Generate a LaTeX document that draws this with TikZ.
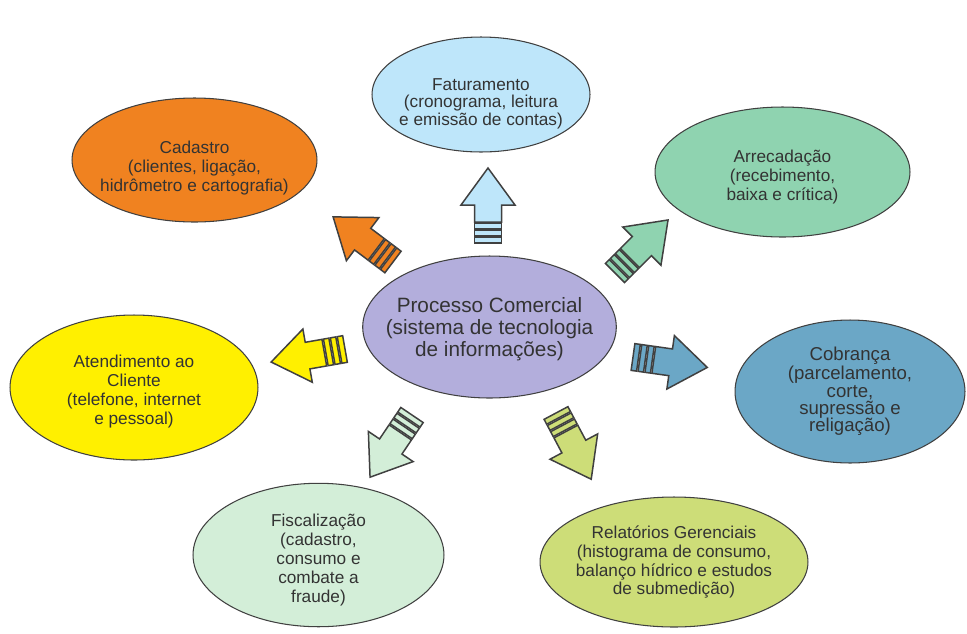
\documentclass[tikz,border=0pt]{standalone}
\usepackage{fontspec}
\setmainfont{Liberation Sans}
\usetikzlibrary{shapes.geometric}

\definecolor{fatblue}{RGB}{190,230,250}
\definecolor{cadorange}{RGB}{240,130,32}
\definecolor{arrgreen}{RGB}{143,211,176}
\definecolor{proclilac}{RGB}{179,174,220}
\definecolor{atendyellow}{RGB}{255,240,0}
\definecolor{cobblue}{RGB}{107,167,198}
\definecolor{fiscgreen}{RGB}{211,238,216}
\definecolor{relolive}{RGB}{205,221,120}

\tikzset{
  bubble/.style={ellipse, draw=black!75, line width=0.6pt, inner ysep=0pt, inner xsep=-8pt,
    align=center, text=black!80, font=\fontsize{9.8}{10.8}\selectfont},
  blockarrow/.style={draw=black!75, line width=0.85pt, line join=miter},
  pics/stripearrow/.style={code={
    \path[pic actions] (0,-13.5) rectangle (5.5,13.5);
    \path[pic actions] (7,-13.5) rectangle (12.5,13.5);
    \path[pic actions] (14,-13.5) rectangle (19.5,13.5);
    \path[pic actions] (21,-13.5) -- (38,-13.5) -- (38,-27) -- (75,0) -- (38,27) -- (38,13.5) -- (21,13.5) -- cycle;
  }}
}

\begin{document}
\begin{tikzpicture}[x=0.02cm, y=-0.02cm]
\useasboundingbox (0,0) rectangle (967,633);

% centre
\node[bubble, fill=proclilac, minimum width=4.90cm, minimum height=2.84cm,
  font=\fontsize{11.8}{12.6}\selectfont] (proc) at (489.5,327)
  {\rule{0pt}{11pt}Processo Comercial\\(sistema de tecnologia\\de informações)};

% outer bubbles (the rules push the text a little down, as in the original)
\node[bubble, fill=fatblue, minimum width=4.36cm, minimum height=2.30cm,
  font=\fontsize{9.8}{9.9}\selectfont] (fat) at (481,94.5)
  {\rule{0pt}{17pt}Faturamento\\(cronograma, leitura\\e emissão de contas)};
\node[bubble, fill=cadorange, minimum width=4.90cm, minimum height=2.48cm] (cad) at (194.5,160)
  {\rule{0pt}{16pt}Cadastro\\(clientes, ligação,\\hidrômetro e cartografia)};
\node[bubble, fill=arrgreen, minimum width=5.10cm, minimum height=2.60cm] (arr) at (782.5,172)
  {\rule{0pt}{12.5pt}Arrecadação\\(recebimento,\\baixa e crítica)};
\node[bubble, fill=atendyellow, minimum width=4.96cm, minimum height=2.90cm] (atend) at (134,387.5)
  {\rule{0pt}{11.5pt}Atendimento ao\\Cliente\\(telefone, internet\\e pessoal)};
\node[bubble, fill=cobblue, minimum width=4.60cm, minimum height=2.86cm,
  font=\fontsize{10.6}{9.9}\selectfont] (cob) at (850,391.5)
  {Cobrança\\(parcelamento,\\corte,\\supressão e\\religação)};
\node[bubble, fill=fiscgreen, minimum width=5.02cm, minimum height=2.60cm] (fisc) at (318.5,555)
  {\rule{0pt}{12.5pt}Fiscalização\\(cadastro,\\consumo e\\combate a\\fraude)};
\node[bubble, fill=relolive, minimum width=5.36cm, minimum height=2.60cm] (rel) at (674,562)
  {Relatórios Gerenciais\\(histograma de consumo,\\balanço hídrico e estudos\\de submedição)};

% striped arrows
\pic[blockarrow, fill=fatblue, rotate=90] at (488,243) {stripearrow};
\pic[blockarrow, fill=cadorange, rotate=143] at (393,262) {stripearrow};
\pic[blockarrow, fill=arrgreen, rotate=45] at (615,273) {stripearrow};
\pic[blockarrow, fill=cobblue, rotate=-8] at (633,357) {stripearrow};
\pic[blockarrow, fill=relolive, rotate=-62] at (556,413) {stripearrow};
\pic[blockarrow, fill=fiscgreen, rotate=-124] at (412,415) {stripearrow};
\pic[blockarrow, fill=atendyellow, rotate=190] at (345,349) {stripearrow};
\end{tikzpicture}
\end{document}
